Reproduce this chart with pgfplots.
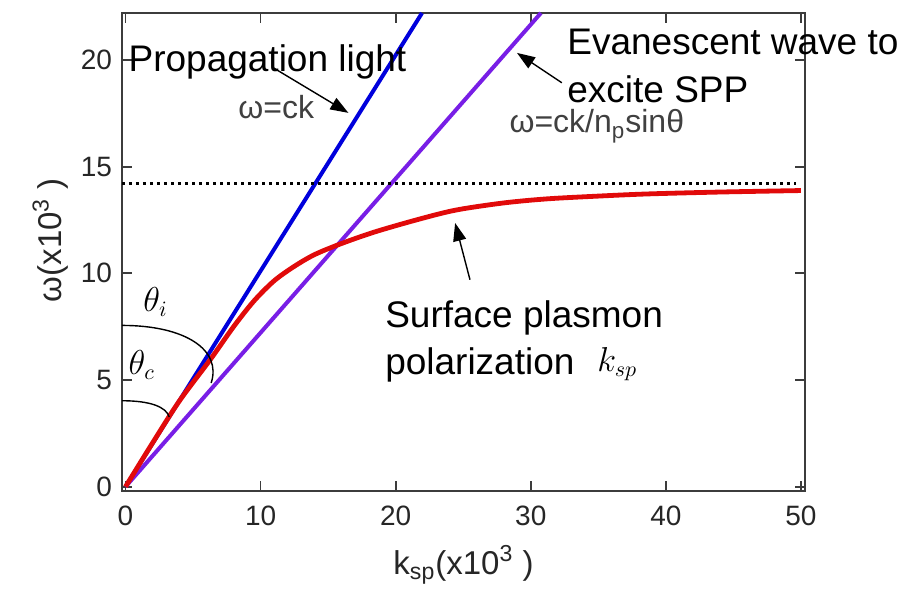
\documentclass[border=0pt]{standalone}
\usepackage{fontspec}
\setmainfont{Liberation Sans}
\usepackage{pgfplots}
\pgfplotsset{compat=1.18}
\usetikzlibrary{arrows.meta}

\definecolor{cklight}{RGB}{0,0,220}
\definecolor{evaline}{RGB}{120,30,230}
\definecolor{sppred}{RGB}{225,10,10}
\definecolor{framegray}{RGB}{60,60,60}

\newcommand\bigtxt{\fontsize{18.5}{22}\selectfont}
\newcommand\midtxt{\fontsize{16}{18}\selectfont}

\begin{document}
\begin{tikzpicture}[
  pointer/.style={-{Triangle[length=9pt,width=6.5pt]}, line width=0.7pt, black},
]
\begin{axis}[
  width=341.5pt, height=239pt, scale only axis,
  xmin=-0.26, xmax=50.3, ymin=-0.2, ymax=22.2,
  xtick={0,10,...,50}, ytick={0,5,...,20},
  tick align=inside, major tick length=5pt,
  axis line style={framegray, line width=0.9pt},
  every tick/.style={framegray, line width=0.9pt},
  ticklabel style={font=\fontsize{14}{16}\selectfont, text=black!85},
  xticklabel style={yshift=-4pt},
  yticklabel style={xshift=-1.5pt},
  /pgf/number format/assume math mode=true,
  xlabel={k\textsubscript{sp}(x10\textsuperscript{3} )},
  ylabel={ω(x10\textsuperscript{3} )},
  label style={font=\fontsize{16.5}{18}\selectfont, text=black!85},
  xlabel style={at={(rel axis cs:0.5,-0.155)}, anchor=center},
  ylabel style={at={(rel axis cs:-0.105,0.525)}, anchor=center},
  clip=false,
]
% light line and evanescent wave line
\addplot[cklight, line width=2pt] coordinates {(0,0) (21.95,22.2)};
\addplot[evaline, line width=2pt] coordinates {(0,0) (30.75,22.2)};
% surface plasmon dispersion
\addplot[sppred, line width=2.4pt, smooth] coordinates {
  (0,0) (2,2.05) (4,4.03) (6.3,5.98) (8,7.5) (9.5,8.7) (11,9.65)
  (12.5,10.33) (14,10.88) (16,11.4) (18.5,11.95) (21.8,12.55) (24.5,12.97)
  (28,13.3) (31.2,13.49) (35,13.62) (38.6,13.72) (44,13.81) (50,13.88)};
% asymptote
\addplot[black, line width=1.5pt, dash pattern=on 1.5pt off 2pt] coordinates {(-0.26,14.19) (49.6,14.19)};

\coordinate (sw) at (rel axis cs:0,0);
\coordinate (ne) at (rel axis cs:1,1);

\node[anchor=base west, inner sep=0, font=\bigtxt] at (axis cs:0.2,19.45) {Propagation light};
\draw[pointer] (axis cs:10.95,19.63) -- (axis cs:16.5,17.52);
\node[anchor=base west, inner sep=0, font=\midtxt, text=black!75] at (axis cs:8.33,17.25) {ω=ck};

\node[anchor=base west, inner sep=0, font=\bigtxt] at (axis cs:32.68,20.25) {Evanescent wave to};
\node[anchor=base west, inner sep=0, font=\bigtxt] at (axis cs:32.68,18.0) {excite SPP};
\draw[pointer] (axis cs:32.3,18.93) -- (axis cs:28.98,20.33);
\node[anchor=base west, inner sep=0, font=\midtxt, text=black!75] at (axis cs:28.4,16.58) {ω=ck/n\textsubscript{p}sinθ};

\node[anchor=base west, inner sep=0, font=\bigtxt] at (axis cs:19.2,7.44) {Surface plasmon};
\node[anchor=base west, inner sep=0, font=\bigtxt] at (axis cs:19.2,5.25) {polarization};
\node[anchor=base west, inner sep=0, font=\fontsize{16}{18}\selectfont] at (axis cs:34.9,5.39) {$k_{sp}$};
\draw[pointer] (axis cs:25.5,9.7) -- (axis cs:24.4,12.36);

% angles
\node[anchor=base west, inner sep=0, font=\fontsize{16}{18}\selectfont] at (axis cs:1.3,8.2) {$\theta_i$};
\node[anchor=base west, inner sep=0, font=\fontsize{16}{18}\selectfont] at (axis cs:0.2,5.25) {$\theta_c$};
\draw[line width=0.7pt] (axis cs:-0.26,7.56) .. controls (axis cs:4.41,7.56) and (axis cs:7.15,6.42) .. (axis cs:6.34,4.86);
\draw[line width=0.7pt] (axis cs:-0.26,4.03) .. controls (axis cs:1.81,4.03) and (axis cs:3.0,3.75) .. (axis cs:3.24,3.27);
\end{axis}
\pgfresetboundingbox
\path[use as bounding box] ([shift={(-61pt,-49.5pt)}]sw) rectangle ([shift={(49pt,6.5pt)}]ne);
\end{tikzpicture}
\end{document}
